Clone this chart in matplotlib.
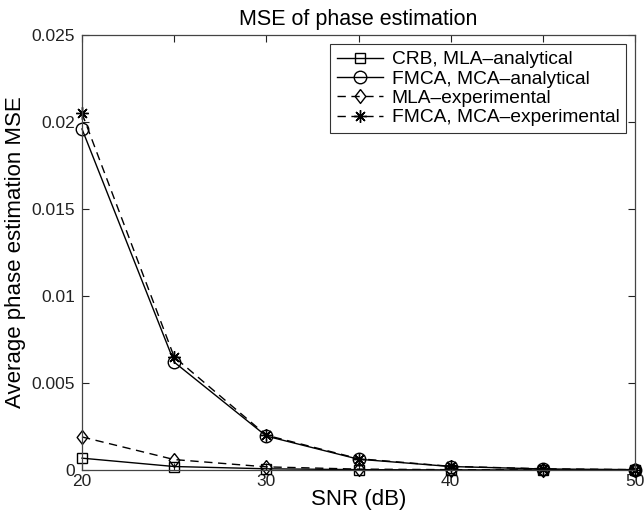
import matplotlib
matplotlib.use("Agg")
import matplotlib.pyplot as plt

plt.rcParams['font.family'] = ['Liberation Sans', 'DejaVu Sans']

# SNR axis
snr = [20, 25, 30, 35, 40, 45, 50]

# MSE curves
crb_mla_analytical = [0.00068, 0.00020, 0.00007, 0.00002, 0.000008, 0.000003, 0.000001]
fmca_mca_analytical = [0.0196, 0.0062, 0.00195, 0.00062, 0.00020, 0.00006, 0.00002]
mla_experimental = [0.0019, 0.00060, 0.00018, 0.00005, 0.00002, 0.00001, 0.000003]
fmca_mca_experimental = [0.0205, 0.0065, 0.0020, 0.00065, 0.00021, 0.00007, 0.00002]

legend_labels = ['CRB, MLA\u2013analytical', 'FMCA, MCA\u2013analytical',
                 'MLA\u2013experimental', 'FMCA, MCA\u2013experimental']

xtick_vals = [20, 25, 30, 35, 40, 45, 50]
xtick_text = ['20', '', '30', '', '40', '', '50']
ytick_vals = [0, 0.005, 0.01, 0.015, 0.02, 0.025]
ytick_text = ['0', '0.005', '0.01', '0.015', '0.02', '0.025']

fig = plt.figure(figsize=(6.44, 5.2), dpi=100)
ax = fig.add_axes([82/644, 1 - 470/520, (635 - 82)/644, (470 - 35)/520])

# matlab-like markers: slightly tall diamond, 8-spoke asterisk
diamond = [(0, 1), (0.77, 0), (0, -1), (-0.77, 0), (0, 1)]
asterisk = (8, 2, 0)

dash = (0, (6, 4))
common = dict(color='black', linewidth=1.0, markerfacecolor='none',
              markeredgecolor='black', clip_on=False)
ax.plot(snr, crb_mla_analytical, marker='s', markersize=7, linestyle='-',
        label=legend_labels[0], **common)
ax.plot(snr, fmca_mca_analytical, marker='o', markersize=9, linestyle='-',
        label=legend_labels[1], **common)
ax.plot(snr, mla_experimental, marker=diamond, markersize=10, linestyle=dash,
        label=legend_labels[2], **common)
ax.plot(snr, fmca_mca_experimental, marker=asterisk, markersize=9, linestyle=dash,
        markeredgewidth=1.0, label=legend_labels[3], **common)

ax.set_xlim(20, 50)
ax.set_ylim(0, 0.025)
ax.set_xticks(xtick_vals)
ax.set_xticklabels(xtick_text)
ax.set_yticks(ytick_vals)
ax.set_yticklabels(ytick_text)
ax.tick_params(direction='in', top=True, right=True, length=5, width=0.8,
               labelsize=12.5, colors='#222222')
ax.tick_params(axis='y', pad=5)
ax.tick_params(axis='x', pad=3)
for s in ax.spines.values():
    s.set_color('#444444')
    s.set_linewidth(0.9)

ax.set_title('MSE of phase estimation', fontsize=15.5, pad=7)
ax.set_xlabel('SNR (dB)', fontsize=16, labelpad=0)
ax.set_ylabel('Average phase estimation MSE', fontsize=16, labelpad=4)

leg = ax.legend(loc='upper right', bbox_to_anchor=(0.9837, 0.979), fontsize=13.8,
                frameon=True, fancybox=False, edgecolor='black',
                handlelength=2.4, handletextpad=0.45, borderpad=0.35,
                labelspacing=0.1, borderaxespad=0)
leg.get_frame().set_linewidth(0.8)

fig.savefig('out.png', dpi=100)
